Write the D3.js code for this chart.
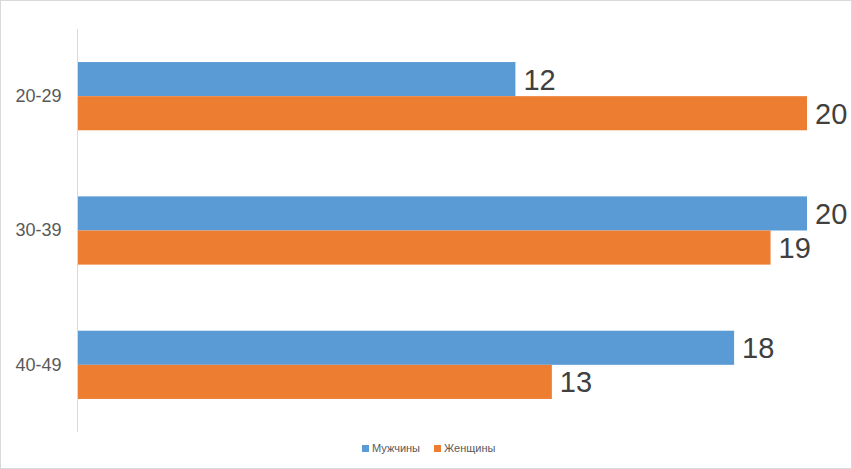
<!DOCTYPE html>
<html><head><meta charset="utf-8">
<script src="https://cdn.jsdelivr.net/npm/d3@7/dist/d3.min.js"></script>
<style>body{margin:0;background:#fff}svg{display:block}</style>
</head><body>
<script>
const categories = ["20-29", "30-39", "40-49"];
const seriesNames = ["Мужчины", "Женщины"];
const men = [12, 20, 18];
const women = [20, 19, 13];
const colors = ["#5B9BD5", "#ED7D31"];

(function () {
const W = 852, H = 469;
const svg = d3.select("body").append("svg").attr("width", W).attr("height", H);
svg.append("rect").attr("x", 0.5).attr("y", 0.5).attr("width", W - 1).attr("height", H - 1)
  .attr("fill", "#fff").attr("stroke", "#d9d9d9");

const pL = 78, pR = 807, pT = 29, pB = 432;
const x = d3.scaleLinear().domain([0, 20]).range([pL, pR]);
const y = d3.scaleBand().domain(categories).range([pT, pB]).paddingInner(0.492).paddingOuter(0.246);
const ySub = d3.scaleBand().domain(seriesNames).range([0, y.bandwidth()]);

const data = categories.map((c, i) => ({cat: c, vals: [men[i], women[i]]}));
const font = "'Liberation Sans', Arial, sans-serif";

const g = svg.append("g");
data.forEach(d => {
  d.vals.forEach((v, j) => {
    const yy = y(d.cat) + ySub(seriesNames[j]);
    g.append("rect").attr("x", x(0)).attr("y", yy).attr("width", x(v) - x(0))
      .attr("height", ySub.bandwidth()).attr("fill", colors[j]);
    g.append("text").attr("x", x(v) + 8).attr("y", yy + ySub.bandwidth() / 2)
      .attr("dy", "0.36em").attr("font-family", font)
      .attr("font-size", 29).attr("fill", "#404040").text(v);
  });
});

const yAxis = d3.axisLeft(y).tickSize(0).tickPadding(16);
const ax = svg.append("g").attr("transform", `translate(${pL - 0.5},0)`).call(yAxis);
ax.select(".domain").attr("stroke", "#d9d9d9").attr("d", `M0,${pT}V${pB}`);
ax.selectAll("text").attr("font-family", font).attr("font-size", 18).attr("fill", "#595959");

const legendX = [362, 434];
const lg = svg.append("g");
seriesNames.forEach((s, j) => {
  lg.append("rect").attr("x", legendX[j]).attr("y", 445).attr("width", 7).attr("height", 7).attr("fill", colors[j]);
  lg.append("text").attr("x", legendX[j] + 10).attr("y", 448.5).attr("dy", "0.36em")
    .attr("font-family", font).attr("font-size", 11).attr("fill", "#595959").text(s);
});
})();
</script>
</body></html>
